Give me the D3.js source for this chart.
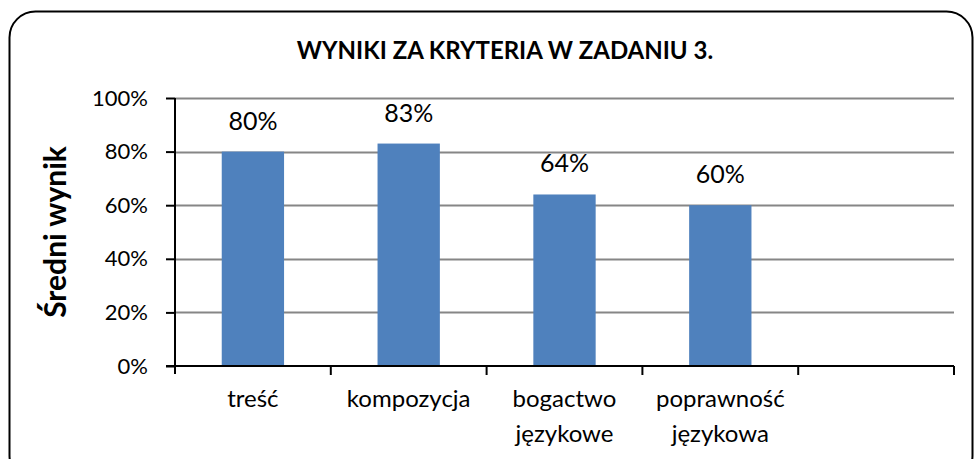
<!DOCTYPE html>
<html>
<head>
<meta charset="utf-8">
<script src="https://cdn.jsdelivr.net/npm/d3@7"></script>
<style>
  body { margin: 0; background: #fff; }
  svg { display: block; font-family: Lato, "Open Sans", sans-serif; }
</style>
</head>
<body>
<svg id="chart" width="974" height="459"></svg>
<script>
// chart data
const categories = ["treść", "kompozycja", "bogactwo\njęzykowe", "poprawność\njęzykowa", ""];
const values = [0.80, 0.83, 0.64, 0.60, null];
const yTicks = [0, 0.2, 0.4, 0.6, 0.8, 1.0];
const title = "WYNIKI ZA KRYTERIA W ZADANIU 3.";
const yTitle = "Średni wynik";

const svg = d3.select("#chart");
const margin = { left: 175, right: 20, top: 98, bottom: 93 };
const width = 974, height = 459;

// outer frame with rounded corners
svg.append("rect")
    .attr("x", 9.5).attr("y", 11.5)
    .attr("width", 963).attr("height", 470)
    .attr("rx", 26).attr("ry", 26)
    .attr("fill", "#fff")
    .attr("stroke", "#000")
    .attr("stroke-width", 2);

const x = d3.scaleBand()
    .domain(d3.range(categories.length))
    .range([margin.left, width - margin.right])
    .paddingInner(0.6)
    .paddingOuter(0.3);

const y = d3.scaleLinear()
    .domain([0, 1])
    .range([height - margin.bottom, margin.top]);

// gridlines
svg.append("g")
    .selectAll("line")
    .data(yTicks.filter(d => d > 0))
    .join("line")
    .attr("x1", margin.left).attr("x2", width - margin.right)
    .attr("y1", d => Math.round(y(d)) + 0.5).attr("y2", d => Math.round(y(d)) + 0.5)
    .attr("stroke", "#868686")
    .attr("stroke-width", 2);

// bars
svg.append("g")
    .selectAll("rect")
    .data(values.map((v, i) => ({ v, i })).filter(d => d.v != null))
    .join("rect")
    .attr("x", d => x(d.i))
    .attr("width", x.bandwidth())
    .attr("y", d => y(d.v))
    .attr("height", d => y(0) - y(d.v))
    .attr("fill", "#4F81BD");

// data labels
svg.append("g")
    .selectAll("text")
    .data(values.map((v, i) => ({ v, i })).filter(d => d.v != null))
    .join("text")
    .attr("x", d => x(d.i) + x.bandwidth() / 2)
    .attr("y", d => y(d.v) - 22)
    .attr("text-anchor", "middle")
    .attr("font-size", 25)
    .attr("fill", "#000")
    .text(d => d3.format(".0%")(d.v));

// y axis
const yAxis = svg.append("g")
    .attr("transform", `translate(${margin.left},0)`)
    .call(d3.axisLeft(y).tickValues(yTicks).tickFormat(d3.format(".0%")).tickSize(9).tickPadding(18));
yAxis.select(".domain").attr("stroke", "#000").attr("stroke-width", 2).attr("d", `M0,${y(1)}V${y(0) + 8}`);
yAxis.selectAll(".tick line").attr("stroke", "#000").attr("stroke-width", 2);
yAxis.selectAll(".tick text").attr("font-size", 22).attr("fill", "#000").attr("font-family", "Lato");

// x axis with boundary ticks
const xAxisG = svg.append("g").attr("transform", `translate(0,${y(0)})`);
xAxisG.append("line")
    .attr("x1", margin.left - 9).attr("x2", width - margin.right)
    .attr("stroke", "#000").attr("stroke-width", 2);
const step = x.step();
const bounds = d3.range(categories.length + 1).map(i => margin.left + i * step);
xAxisG.selectAll(".bt")
    .data(bounds.slice(1))
    .join("line")
    .attr("x1", d => d).attr("x2", d => d)
    .attr("y1", 0).attr("y2", 9)
    .attr("stroke", "#000").attr("stroke-width", 2);

// category labels
xAxisG.selectAll(".cat")
    .data(categories)
    .join("text")
    .attr("text-anchor", "middle")
    .attr("font-size", 24)
    .attr("fill", "#000")
    .each(function (d, i) {
        const t = d3.select(this);
        d.split("\n").forEach((line, j) => {
            t.append("tspan")
                .attr("x", x(i) + x.bandwidth() / 2)
                .attr("y", 41 + j * 35)
                .text(line);
        });
    });

// title
svg.append("text")
    .attr("x", 505).attr("y", 59)
    .attr("text-anchor", "middle")
    .attr("font-size", 24)
    .attr("font-weight", "bold")
    .text(title);

// y title
svg.append("text")
    .attr("transform", `translate(66,${(y(0) + y(1)) / 2}) rotate(-90)`)
    .attr("text-anchor", "middle")
    .attr("font-size", 30)
    .attr("font-weight", "bold")
    .text(yTitle);
</script>
</body>
</html>
